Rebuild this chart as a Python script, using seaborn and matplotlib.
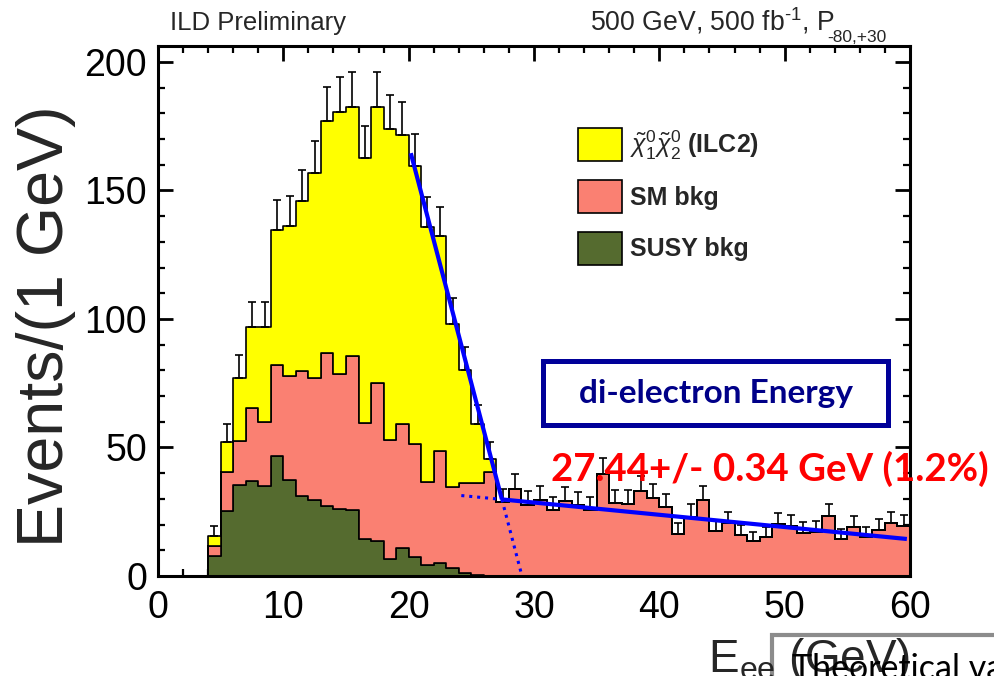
import numpy as np
import pandas as pd
import matplotlib
matplotlib.use("Agg")
import matplotlib.pyplot as plt
import seaborn as sns
from matplotlib.ticker import MultipleLocator
from matplotlib.patches import Patch, Rectangle

# ---------------------------------------------------------------
# Di-electron energy spectrum, 1 GeV bins from 0 to 60 GeV
# ---------------------------------------------------------------
bin_edges = list(range(0, 61))
bin_low = np.array(bin_edges[:-1], dtype=float)

# events per bin for each stacked component
signal = [0, 0, 0, 0, 3.6, 11.7, 24.6, 31.3, 36.8, 52.5,
          58.5, 66.2, 79.5, 90.3, 102.0, 97.1, 103.0, 107.4, 121.0, 112.5,
          108.3, 99.0, 83.3, 63.3, 43.9, 22.7, 5.1, 0, 0, 0,
          0, 0, 0, 0, 0, 0, 0, 0, 0, 0,
          0, 0, 0, 0, 0, 0, 0, 0, 0, 0,
          0, 0, 0, 0, 0, 0, 0, 0, 0, 0]
sm_bkg = [0, 0, 0, 0, 3.9, 15.0, 17.2, 28.5, 24.9, 35.3,
          40.2, 48.7, 47.6, 59.4, 52.5, 59.8, 45.0, 61.7, 46.3, 48.2,
          43.7, 32.4, 43.6, 31.8, 35.0, 36.0, 40.3, 28.6, 33.7, 27.7,
          29.6, 25.5, 29.2, 27.6, 25.8, 39.5, 28.3, 28.2, 33.1, 30.2,
          26.8, 16.4, 23.1, 29.5, 17.6, 20.5, 15.8, 13.6, 15.1, 20.1,
          19.5, 16.8, 17.2, 23.3, 14.5, 18.9, 15.3, 17.9, 20.5, 19.5]
susy_bkg = [0, 0, 0, 0, 7.9, 25.3, 35.4, 37.0, 35.1, 46.8,
            37.5, 31.1, 29.6, 27.2, 26.2, 25.7, 14.5, 13.5, 6.5, 10.8,
            7.5, 4.3, 5.2, 3.0, 1.3, 0.3, 0, 0, 0, 0,
            0, 0, 0, 0, 0, 0, 0, 0, 0, 0,
            0, 0, 0, 0, 0, 0, 0, 0, 0, 0,
            0, 0, 0, 0, 0, 0, 0, 0, 0, 0]

component_names = ["signal", "SM bkg", "SUSY bkg"]
component_colors = ["#ffff00", "#fa8072", "#556b2f"]
legend_labels = [r"$\tilde{\chi}^{0}_{1}\tilde{\chi}^{0}_{2}$ (ILC2)", "SM bkg", "SUSY bkg"]

# two-line fit of the spectrum end point
endpoint = 27.44
endpoint_err = 0.34
endpoint_rel = 1.2
edge_start = (20.17, 164.5)
edge_knee = (endpoint, 29.8)
edge_zero = (29.04, 0.0)
tail_start = (24.2, 31.3)
tail_end = (59.75, 14.4)

# ---------------------------------------------------------------
sns.set_theme(style="ticks")
plt.rcParams["font.family"] = ["Liberation Sans", "DejaVu Sans"]
plt.rcParams["mathtext.fontset"] = "custom"
plt.rcParams["mathtext.rm"] = "Liberation Sans"
plt.rcParams["mathtext.it"] = "Liberation Sans:italic"
plt.rcParams["mathtext.bf"] = "Liberation Sans:bold"

W, H = 994, 676
fig = plt.figure(figsize=(W / 100, H / 100), dpi=100)
ax = fig.add_axes([158 / W, 1 - 576 / H, (910 - 158) / W, (576 - 46) / H])


def fx(px):
    return px / W


def fy(py):
    return 1 - py / H


df = pd.DataFrame({
    "energy": np.tile(bin_low + 0.5, 3),
    "events": np.concatenate([signal, sm_bkg, susy_bkg]),
    "component": np.repeat(component_names, len(bin_low)),
})

sns.histplot(data=df, x="energy", weights="events", hue="component",
             hue_order=component_names, palette=component_colors,
             bins=bin_edges, multiple="stack", element="step", fill=True,
             alpha=1, edgecolor="black", linewidth=1.2, legend=False, ax=ax)

# statistical error bars on the summed spectrum (upper half visible)
total = np.array(signal) + np.array(sm_bkg) + np.array(susy_bkg)
filled = total > 0
err = np.sqrt(total[filled])
ax.errorbar(bin_low[filled] + 0.5, total[filled],
            yerr=[np.zeros_like(err), err], fmt="none", ecolor="black",
            elinewidth=1.2, capsize=2.8, capthick=1.2, zorder=4)

# fit lines
blue = "#0000ff"
ax.plot([edge_start[0], edge_knee[0]], [edge_start[1], edge_knee[1]],
        color=blue, lw=3.0, solid_capstyle="butt", zorder=5)
ax.plot([edge_knee[0], tail_end[0]], [edge_knee[1], tail_end[1]],
        color=blue, lw=3.0, solid_capstyle="butt", zorder=5)
ax.plot([edge_knee[0], edge_zero[0]], [edge_knee[1], edge_zero[1]],
        color=blue, lw=2.2, ls=(0, (1, 1.6)), zorder=5)
ax.plot([tail_start[0], edge_knee[0]], [tail_start[1], edge_knee[1]],
        color=blue, lw=2.2, ls=(0, (1, 1.6)), zorder=5)

# axes styling
ax.set_xlim(0, 60)
ax.set_ylim(0, 206.2)
ax.set_xlabel("")
ax.set_ylabel("")
ax.xaxis.set_major_locator(MultipleLocator(10))
ax.xaxis.set_minor_locator(MultipleLocator(2))
ax.yaxis.set_major_locator(MultipleLocator(50))
ax.yaxis.set_minor_locator(MultipleLocator(10))
ax.tick_params(which="both", direction="in", top=True, right=True,
               colors="black")
ax.tick_params(which="major", length=10.5, width=2.0, labelsize=27)
ax.tick_params(which="minor", length=5.0, width=1.6)
ax.tick_params(axis="x", which="major", pad=10)
ax.tick_params(axis="y", which="major", pad=8)
for s in ax.spines.values():
    s.set_linewidth(2.2)
    s.set_color("black")
ax.set_facecolor("white")

# legend
handles = [Patch(facecolor=c, edgecolor="black", linewidth=1.2)
           for c in component_colors]
leg = ax.legend(handles, legend_labels, loc="upper left",
                bbox_to_anchor=(fx(578), fy(128)),
                bbox_transform=fig.transFigure, frameon=False,
                prop={"size": 18, "weight": "bold"}, borderpad=0,
                borderaxespad=0, handlelength=1.76, handleheight=1.65,
                handletextpad=0.3, labelspacing=0.74)

# axis titles
fig.text(fx(46), fy(326), "Events/(1 GeV)", rotation=90, fontsize=46.5,
         ha="center", va="center")
fig.text(fx(910), fy(672), r"E$_{\mathrm{ee}}$ (GeV)", fontsize=33,
         ha="right", va="baseline", zorder=6)

# header texts
fig.text(fx(170), fy(30), "ILD Preliminary", fontsize=18.5, va="baseline")
fig.text(fx(590), fy(30), r"500 GeV, 500 fb$^{\text{-1}}$, P",
         fontsize=19.2, va="baseline")
fig.text(fx(827), fy(42), "-80,+30", fontsize=12.5, va="baseline")

# annotation box and fit result
fig.patches.append(Rectangle((fx(543), fy(425)), fx(888 - 543), (425 - 361) / H,
                             transform=fig.transFigure, fill=False,
                             edgecolor="#000099", linewidth=3.6, zorder=6))
fig.text(fx(716), fy(394), "di-electron Energy", fontsize=24,
         fontfamily=["Lato", "DejaVu Sans"], fontweight="bold",
         color="#000088", ha="center", va="center", zorder=7)
fig.text(fx(551), fy(481),
         f"{endpoint:.2f}+/- {endpoint_err:.2f} GeV ({endpoint_rel:.1f}%)",
         fontsize=27.6, fontfamily=["Lato", "DejaVu Sans"], fontweight="bold",
         color="#ff0000", ha="left", va="baseline", zorder=8)

# neighbouring slide box at the lower edge
fig.patches.append(Rectangle((fx(772), fy(720)), fx(400), (720 - 635) / H,
                             transform=fig.transFigure, fill=False,
                             edgecolor="#8c8c8c", linewidth=3.0, zorder=5))
fig.text(fx(792), fy(679), "Theoretical value", fontsize=24.5,
         fontfamily=["Lato", "DejaVu Sans"], color="black",
         ha="left", va="baseline", zorder=7)

fig.savefig("out.png", dpi=100, facecolor="white")
